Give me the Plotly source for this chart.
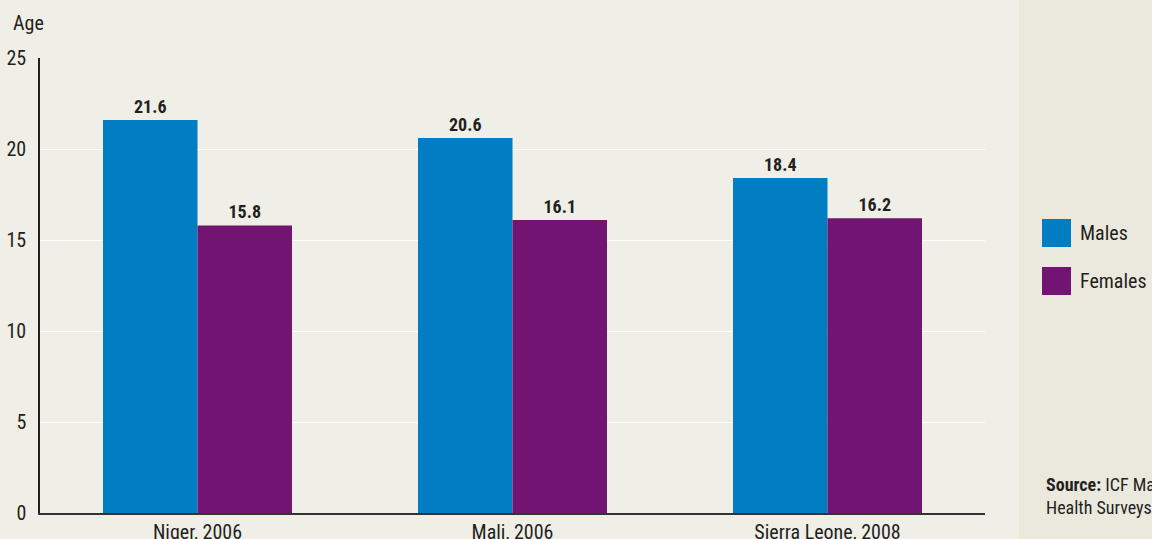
import plotly.graph_objects as go

categories = ["Niger, 2006", "Mali, 2006", "Sierra Leone, 2008"]
males = [21.6, 20.6, 18.4]
females = [15.8, 16.1, 16.2]
series_names = ["Males", "Females"]
colors = ["#007DC3", "#721472"]
y_ticks = [0, 5, 10, 15, 20, 25]

FONT = "Roboto Condensed, Liberation Sans Narrow, Arial Narrow, sans-serif"
W, H = 1152, 539
L, R, T, B = 40, 167, 58, 26
pw, ph = W - L - R, H - T - B

fig = go.Figure()
for name, vals, col in zip(series_names, [males, females], colors):
    fig.add_trace(go.Bar(
        x=categories, y=vals, name=name, marker_color=col, marker_line_width=0,
        text=[f"{v:.1f}" for v in vals], textposition="outside",
        textfont=dict(family=FONT, size=18, color="#231f20"),
        texttemplate="<b>%{text}</b>", cliponaxis=False, showlegend=False,
    ))

fig.update_layout(
    width=W, height=H,
    margin=dict(l=L, r=R, t=T, b=B, autoexpand=False),
    paper_bgcolor="#f0efe7", plot_bgcolor="#f0efe7",
    barmode="group", bargap=0.4, bargroupgap=0,
    font=dict(family=FONT, size=20, color="#231f20"),
    xaxis=dict(showline=True, linecolor="#333333", linewidth=2, ticks="",
               showgrid=False, tickfont=dict(size=20), fixedrange=True, automargin=False),
    yaxis=dict(range=[0, 25], tickvals=y_ticks, showline=True, linecolor="#231f20",
               linewidth=1.5, gridcolor="#ffffff", gridwidth=1.2, zeroline=False,
               ticks="", tickfont=dict(size=20), ticklabelstandoff=8, automargin=False,
               fixedrange=True),
    shapes=[
        dict(type="rect", xref="paper", yref="paper",
             x0=(1019 - L) / pw, x1=(W - L) / pw + 0.01,
             y0=-1, y1=2, fillcolor="#ebe9de", line_width=0, layer="below"),
    ],
    annotations=[
        dict(text="Age", xref="paper", yref="paper", x=-(L - 11) / pw, y=1 + 35 / ph,
             xanchor="left", yanchor="middle", showarrow=False, font=dict(size=20)),
        dict(text="<b>Source:</b> ICF Macro, Demographic and<br>Health Surveys, various years.",
             xref="paper", yref="paper", x=(1044 - L) / pw, y=(513 - 472) / ph,
             xanchor="left", yanchor="top", align="left", showarrow=False,
             font=dict(size=18, color="#231f20")),
    ],
)

# legend drawn with swatches
for i, (name, col) in enumerate(zip(series_names, colors)):
    yc = 233 + i * 48
    fig.add_shape(type="rect", xref="paper", yref="paper",
                  x0=(1042 - L) / pw, x1=(1071 - L) / pw,
                  y0=(513 - (yc + 14)) / ph, y1=(513 - (yc - 14)) / ph,
                  fillcolor=col, line_width=0)
    fig.add_annotation(text=name, xref="paper", yref="paper",
                       x=(1078 - L) / pw, y=(513 - yc) / ph, xanchor="left", yanchor="middle",
                       showarrow=False, font=dict(size=20))

fig.write_html("out.html", config={"displayModeBar": False},
               post_script="document.body.style.margin='0';")
